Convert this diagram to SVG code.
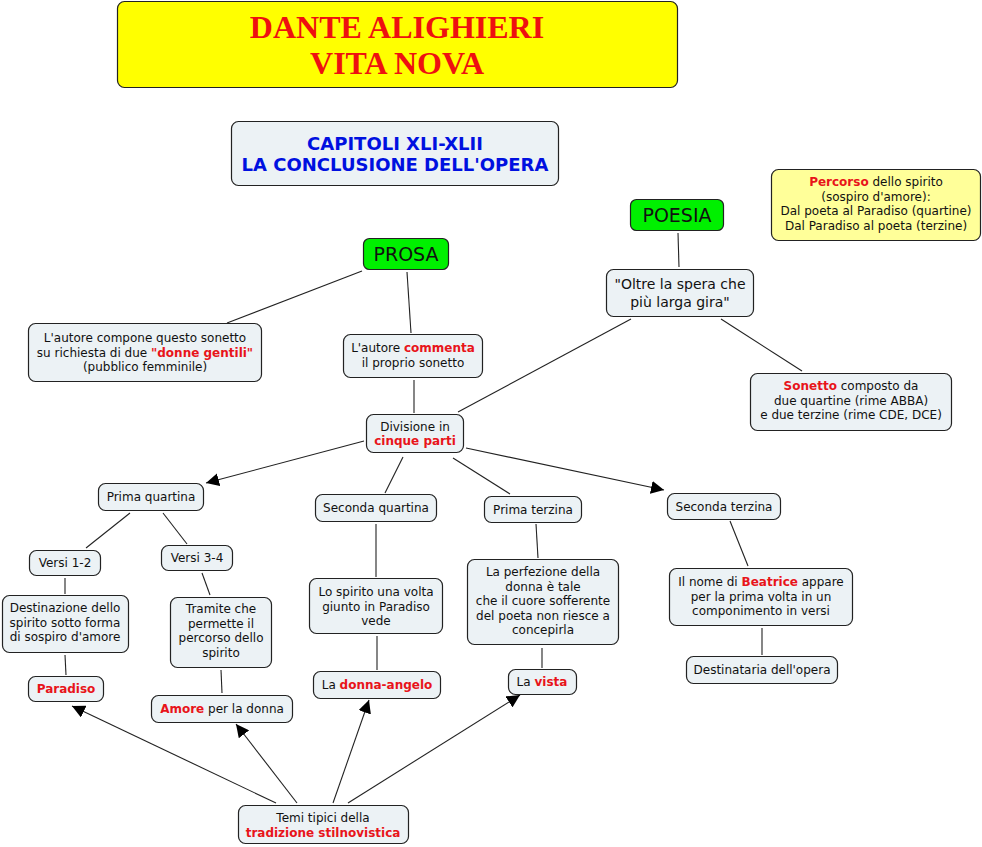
<svg xmlns="http://www.w3.org/2000/svg" width="982" height="847" viewBox="0 0 982 847">
<defs>
<marker id="arr" viewBox="0 0 10 10" refX="10" refY="5" markerWidth="13" markerHeight="13" markerUnits="userSpaceOnUse" orient="auto"><path d="M0,0 L10,5 L0,10 z" fill="#000"/></marker>
<style>
.n{fill:#ecf2f5;stroke:#222;stroke-width:1.2}
.t{font-family:"DejaVu Sans",Verdana,sans-serif;font-size:12px;fill:#111;text-anchor:middle}
.r{fill:#e8141a;font-weight:bold}
.g{fill:#00f000;stroke:#222;stroke-width:1.2}
.big{font-size:19px}
.cap{font-size:18px;fill:#0010e0;font-weight:bold}
.c line{stroke:#222;stroke-width:1.1}
</style>
</defs>
<rect width="982" height="847" fill="#fff"/>
<g id="title"><rect x="117.5" y="1.5" width="560" height="86" rx="7" fill="#ffff00" stroke="#222" stroke-width="1.2"/>
<text x="397" y="38" font-family="'Liberation Serif',serif" font-weight="bold" font-size="32" fill="#ee1010" text-anchor="middle">DANTE ALIGHIERI</text>
<text x="397" y="74" font-family="'Liberation Serif',serif" font-weight="bold" font-size="32" fill="#ee1010" text-anchor="middle">VITA NOVA</text></g>
<g id="capitoli"><rect class="n" x="231.5" y="121.5" width="327" height="64" rx="7"/>
<text class="t cap" x="395" y="150">CAPITOLI XLI-XLII</text>
<text class="t cap" x="395" y="171">LA CONCLUSIONE DELL'OPERA</text></g>
<g id="percorso"><rect x="771.5" y="169.5" width="209" height="71" rx="7" fill="#ffff99" stroke="#222" stroke-width="1.2"/>
<text class="t" x="876" y="186"><tspan class="r">Percorso</tspan> dello spirito</text>
<text class="t" x="876" y="201">(sospiro d'amore):</text>
<text class="t" x="876" y="215">Dal poeta al Paradiso (quartine)</text>
<text class="t" x="876" y="230">Dal Paradiso al poeta (terzine)</text></g>
<g id="poesia"><rect class="g" x="630.5" y="199.5" width="93" height="31" rx="6"/><text class="t big" x="677" y="222">POESIA</text></g>
<g id="prosa"><rect class="g" x="363.5" y="238.5" width="85" height="31" rx="6"/><text class="t big" x="406" y="261">PROSA</text></g>
<g id="oltre"><rect class="n" x="606.5" y="269.5" width="147" height="47" rx="7"/>
<text class="t" x="680" y="289" style="font-size:14px">"Oltre la spera che</text>
<text class="t" x="680" y="307" style="font-size:14px">più larga gira"</text></g>
<g id="sonetto"><rect class="n" x="750.5" y="373.5" width="201" height="57" rx="7"/>
<text class="t" x="851" y="390"><tspan class="r">Sonetto</tspan> composto da</text>
<text class="t" x="851" y="405">due quartine (rime ABBA)</text>
<text class="t" x="851" y="419">e due terzine (rime CDE, DCE)</text></g>
<g id="compone"><rect class="n" x="28.5" y="323.5" width="233" height="58" rx="7"/>
<text class="t" x="145" y="342">L'autore compone questo sonetto</text>
<text class="t" x="145" y="357">su richiesta di due <tspan class="r">"donne gentili"</tspan></text>
<text class="t" x="145" y="371">(pubblico femminile)</text></g>
<g id="commenta"><rect class="n" x="343.5" y="334.5" width="139" height="43" rx="7"/>
<text class="t" x="413" y="352">L'autore <tspan class="r">commenta</tspan></text>
<text class="t" x="413" y="367">il proprio sonetto</text></g>
<g id="divisione"><rect class="n" x="366.5" y="414.5" width="97" height="38" rx="7"/>
<text class="t" x="415" y="431">Divisione in</text>
<text class="t" x="415" y="445"><tspan class="r">cinque parti</tspan></text></g>
<g id="primaq"><rect class="n" x="98.5" y="483.5" width="105" height="27" rx="7"/><text class="t" x="151" y="501">Prima quartina</text></g>
<g id="secondaq"><rect class="n" x="315.5" y="494.5" width="121" height="27" rx="7"/><text class="t" x="376" y="512">Seconda quartina</text></g>
<g id="primat"><rect class="n" x="484.5" y="496.5" width="97" height="26" rx="7"/><text class="t" x="533" y="514">Prima terzina</text></g>
<g id="secondat"><rect class="n" x="667.5" y="493.5" width="113" height="26" rx="7"/><text class="t" x="724" y="511">Seconda terzina</text></g>
<g id="versi12"><rect class="n" x="29.5" y="550.5" width="71" height="25" rx="7"/><text class="t" x="65" y="567">Versi 1-2</text></g>
<g id="versi34"><rect class="n" x="161.5" y="545.5" width="71" height="25" rx="7"/><text class="t" x="197" y="562">Versi 3-4</text></g>
<g id="destinazione"><rect class="n" x="2.5" y="595.5" width="126" height="57" rx="7"/>
<text class="t" x="65" y="612">Destinazione dello</text>
<text class="t" x="65" y="627">spirito sotto forma</text>
<text class="t" x="65" y="641">di sospiro d'amore</text></g>
<g id="tramite"><rect class="n" x="170.5" y="597.5" width="101" height="70" rx="7"/>
<text class="t" x="221" y="613">Tramite che</text>
<text class="t" x="221" y="628">permette il</text>
<text class="t" x="221" y="642">percorso dello</text>
<text class="t" x="221" y="657">spirito</text></g>
<g id="lospirito"><rect class="n" x="309.5" y="578.5" width="133" height="55" rx="7"/>
<text class="t" x="376" y="596">Lo spirito una volta</text>
<text class="t" x="376" y="611">giunto in Paradiso</text>
<text class="t" x="376" y="625">vede</text></g>
<g id="perfezione"><rect class="n" x="467.5" y="559.5" width="151" height="85" rx="7"/>
<text class="t" x="543" y="576">La perfezione della</text>
<text class="t" x="543" y="591">donna è tale</text>
<text class="t" x="543" y="605">che il cuore sofferente</text>
<text class="t" x="543" y="620">del poeta non riesce a</text>
<text class="t" x="543" y="634">concepirla</text></g>
<g id="ilnome"><rect class="n" x="669.5" y="568.5" width="183" height="57" rx="7"/>
<text class="t" x="761" y="586">Il nome di <tspan class="r">Beatrice</tspan> appare</text>
<text class="t" x="761" y="601">per la prima volta in un</text>
<text class="t" x="761" y="615">componimento in versi</text></g>
<g id="paradiso"><rect class="n" x="28.5" y="676.5" width="75" height="25" rx="7"/><text class="t" x="66" y="693"><tspan class="r">Paradiso</tspan></text></g>
<g id="amore"><rect class="n" x="151.5" y="695.5" width="141" height="27" rx="7"/><text class="t" x="222" y="713"><tspan class="r">Amore</tspan> per la donna</text></g>
<g id="donnaangelo"><rect class="n" x="313.5" y="671.5" width="127" height="27" rx="7"/><text class="t" x="377" y="689">La <tspan class="r">donna-angelo</tspan></text></g>
<g id="vista"><rect class="n" x="508.5" y="669.5" width="68" height="25" rx="7"/><text class="t" x="542" y="686">La <tspan class="r">vista</tspan></text></g>
<g id="destinataria"><rect class="n" x="686.5" y="656.5" width="151" height="27" rx="7"/><text class="t" x="762" y="674">Destinataria dell'opera</text></g>
<g id="temi"><rect class="n" x="238.5" y="805.5" width="170" height="38" rx="7"/>
<text class="t" x="323" y="822">Temi tipici della</text>
<text class="t" x="323" y="837"><tspan class="r">tradizione stilnovistica</tspan></text></g>
<g id="connectors" class="c">
<line x1="362" y1="271" x2="227" y2="323"/>
<line x1="407" y1="272" x2="411" y2="333"/>
<line x1="414" y1="380" x2="414" y2="413"/>
<line x1="631" y1="319" x2="458" y2="412"/>
<line x1="678" y1="233" x2="679" y2="267"/>
<line x1="721" y1="319" x2="802" y2="371"/>
<line x1="364" y1="441" x2="206" y2="483" marker-end="url(#arr)"/>
<line x1="403" y1="457" x2="385" y2="493"/>
<line x1="453" y1="458" x2="510" y2="494"/>
<line x1="466" y1="448" x2="664" y2="490" marker-end="url(#arr)"/>
<line x1="130" y1="513" x2="86" y2="548"/>
<line x1="163" y1="513" x2="187" y2="544"/>
<line x1="65" y1="578" x2="65" y2="594"/>
<line x1="202" y1="573" x2="210" y2="595"/>
<line x1="65" y1="655" x2="66" y2="675"/>
<line x1="221" y1="670" x2="222" y2="693"/>
<line x1="376" y1="524" x2="376" y2="577"/>
<line x1="377" y1="636" x2="377" y2="670"/>
<line x1="536" y1="524" x2="538" y2="558"/>
<line x1="542" y1="648" x2="542" y2="668"/>
<line x1="730" y1="521" x2="748" y2="566"/>
<line x1="762" y1="628" x2="762" y2="655"/>
<line x1="276" y1="803" x2="72" y2="706" marker-end="url(#arr)"/>
<line x1="297" y1="803" x2="236" y2="724" marker-end="url(#arr)"/>
<line x1="333" y1="803" x2="369" y2="700" marker-end="url(#arr)"/>
<line x1="348" y1="803" x2="520" y2="695" marker-end="url(#arr)"/>
</g>
</svg>
